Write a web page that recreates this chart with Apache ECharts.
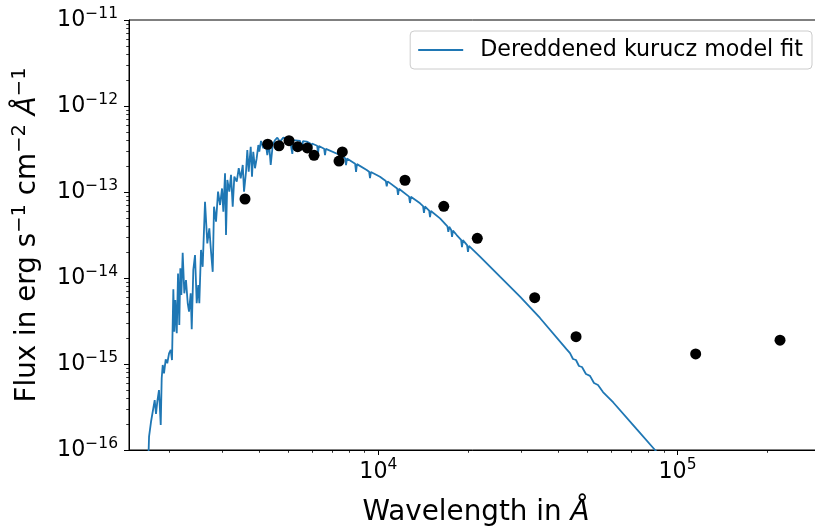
<!DOCTYPE html>
<html><head><meta charset="utf-8">
<script src="https://cdn.jsdelivr.net/npm/echarts@6/dist/echarts.min.js"></script>
<style>html,body{margin:0;padding:0;background:#fff}#c{width:815px;height:528px}</style>
</head><body><div id="c"></div>
<script>
// ---- data ----
const modelWave = [1700,1713,1739,1762,1789,1807,1825,1849,1874,1888,1903,1922,1947,1971,1998,2024,2044,2065,2081,2097,
 2120,2141,2162,2179,2196,2219,2247,2276,2307,2330,2360,2379,2408,2440,2472,2502,2522,2555,2588,2635,
 2682,2724,2760,2796,2824,2868,2913,2958,3004,3034,3074,3097,3129,3177,3219,3261,3302,3364,3416,3468,
 3523,3558,3613,3649,3688,3746,3783,3820,3871,3922,3972,4002,4055,4127,4192,4256,4312,4369,4437,4516,
 4597,4693,4813,4941,5069,5125,5160,5195,5268,5474,5520,5559,5598,5763,5916,5958,6000,6245,6288,6331,
 6387,6590,6635,6680,7447,7746,7801,7856,8366,8425,8484,9147,9316,9382,9448,10130,10595,10670,10745,11560,
 11640,11720,11820,12670,12760,12850,13790,14110,14210,14310,14790,14890,14990,16080,17020,17140,17260,17520,17640,17760,
 18280,18910,19040,19170,19800,19940,20080,21870,25510,29760,34700,42620,43720,44740,45780,46840,47940,49430,50990,52590,
 54230,56360,58120,61010,73040,84100,118900];
const modelFlux = [6.0e-17,1.43e-16,2.13e-16,2.08e-16,3.81e-16,2.62e-16,3.64e-16,4.98e-16,1.95e-16,6.82e-16,9.74e-16,7.80e-16,1.13e-15,1.02e-15,1.33e-15,1.46e-15,1.11e-15,7.39e-15,2.38e-15,5.55e-15,
 2.28e-15,1.13e-14,2.84e-15,1.30e-14,6.34e-15,1.97e-14,6.64e-15,9.48e-15,5.08e-15,4.06e-15,6.64e-15,2.53e-15,1.24e-14,1.85e-14,5.08e-15,8.29e-15,5.08e-15,2.12e-14,1.35e-14,7.71e-14,
 2.53e-14,3.78e-14,2.02e-14,1.18e-14,6.75e-14,4.51e-14,1.01e-13,7.06e-14,1.10e-13,5.90e-14,1.65e-13,3.16e-14,1.38e-13,1.01e-13,1.58e-13,6.75e-14,1.51e-13,1.32e-13,1.89e-13,1.44e-13,
 2.06e-13,1.01e-13,1.72e-13,3.08e-13,1.72e-13,3.36e-13,1.51e-13,2.94e-13,1.89e-13,2.47e-13,3.52e-13,2.94e-13,3.92e-13,3.22e-13,4.02e-13,2.69e-13,3.68e-13,2.06e-13,3.52e-13,4.02e-13,
 4.28e-13,3.85e-13,4.28e-13,4.21e-13,4.02e-13,4.00e-13,2.77e-13,4.00e-13,3.98e-13,3.92e-13,3.90e-13,3.08e-13,3.90e-13,3.85e-13,3.68e-13,3.16e-13,3.66e-13,3.45e-13,2.84e-13,3.43e-13,
 3.36e-13,3.19e-13,2.69e-13,3.17e-13,2.69e-13,2.47e-13,2.06e-13,2.45e-13,2.13e-13,1.71e-13,2.11e-13,1.80e-13,1.72e-13,1.454e-13,1.71e-13,1.505e-13,1.34e-13,1.16e-13,1.33e-13,1.10e-13,
 9.23e-14,1.09e-13,1.055e-13,8.83e-14,7.45e-14,8.79e-14,7.39e-14,6.86e-14,5.70e-14,6.78e-14,6.06e-14,5.12e-14,6.02e-14,4.94e-14,3.98e-14,3.43e-14,3.94e-14,3.62e-14,3.00e-14,3.56e-14,
 3.16e-14,2.78e-14,2.29e-14,2.76e-14,2.41e-14,2.01e-14,2.37e-14,1.769e-14,1.035e-14,6.06e-15,3.43e-15,1.479e-15,1.335e-15,1.143e-15,1.113e-15,9.48e-16,9.23e-16,7.65e-16,7.27e-16,6.01e-16,
 5.70e-16,4.72e-16,4.24e-16,3.57e-16,1.745e-16,1.0e-16,2.53e-17];

const photWave = [3585,4270,4656,5029,5378,5789,6098,7390,7580,12280,16550,21420,33320,45800,115000,220100];
const photFlux = [8.29e-14,3.59e-13,3.45e-13,3.95e-13,3.36e-13,3.25e-13,2.67e-13,2.29e-13,2.92e-13,1.37e-13,6.82e-14,2.89e-14,5.90e-15,2.08e-15,1.31e-15,1.89e-15];

const seriesName = 'Dereddened kurucz model fit';
const xRange = [1468, 306400];
const yRange = [1e-16, 1e-11];
const xMajorTicks = [1e4, 1e5];
const xMajorLabels = ['4', '5'];
const xMinorTicks = [2000,3000,4000,5000,6000,7000,8000,9000,20000,30000,40000,50000,60000,70000,80000,90000,200000,300000];
const yMajorTicks = [1e-16, 1e-15, 1e-14, 1e-13, 1e-12, 1e-11];
const yMajorLabels = ['\u221216', '\u221215', '\u221214', '\u221213', '\u221212', '\u221211'];
const yMinorTicks = [2e-16,3e-16,4e-16,5e-16,6e-16,7e-16,8e-16,9e-16,
 2e-15,3e-15,4e-15,5e-15,6e-15,7e-15,8e-15,9e-15,
 2e-14,3e-14,4e-14,5e-14,6e-14,7e-14,8e-14,9e-14,
 2e-13,3e-13,4e-13,5e-13,6e-13,7e-13,8e-13,9e-13,
 2e-12,3e-12,4e-12,5e-12,6e-12,7e-12,8e-12,9e-12];

// ---- helpers ----
const FONT = 'DejaVu Sans';
function pairs(a, b) { return a.map((v, i) => [v, b[i]]); }
function labelFor(ticks, labels) {
  return function (v) {
    let best = -1, bd = 1e9;
    ticks.forEach((t, i) => { const d = Math.abs(Math.log10(v) - Math.log10(t)); if (d < bd) { bd = d; best = i; } });
    if (bd > 1e-6) return '';
    return '{b|10}{s|' + labels[best] + '}';
  };
}
const tickRich = {
  b: { fontSize: 22.2, fontFamily: FONT, color: '#000', lineHeight: 29, verticalAlign: 'middle' },
  s: { fontSize: 15.5, fontFamily: FONT, color: '#000', lineHeight: 15.5, verticalAlign: 'top' }
};
const nameRich = {
  n: { fontSize: 27.8, fontFamily: FONT, color: '#000', lineHeight: 36, verticalAlign: 'middle' },
  a: { fontSize: 27.8, fontFamily: FONT, fontStyle: 'italic', color: '#000', lineHeight: 36, verticalAlign: 'middle' },
  s: { fontSize: 19.5, fontFamily: FONT, color: '#000', lineHeight: 19.5, verticalAlign: 'top' }
};
const axisLineStyle = { color: '#000', width: 1 };

const chart = echarts.init(document.getElementById('c'), null, { renderer: 'canvas' });
chart.setOption({
  animation: false,
  backgroundColor: '#fff',
  grid: { left: 129, top: 20, width: 694, height: 430, show: true, borderColor: '#000', borderWidth: 1,
          backgroundColor: 'transparent', containLabel: false, outerBoundsMode: 'none' },
  legend: {
    data: [{ name: seriesName, icon: 'rect' }], right: 3, top: 31, orient: 'vertical',
    itemWidth: 45, itemHeight: 2, padding: [8, 9, 8, 8],
    backgroundColor: '#fff', borderColor: '#cccccc', borderWidth: 1, borderRadius: 4,
    itemStyle: { color: '#1f77b4', borderWidth: 0 },
    textStyle: { fontSize: 22.2, fontFamily: FONT, color: '#000', padding: [0, 0, 0, 12] }
  },
  xAxis: [
    {
      type: 'log', gridIndex: 0, min: xRange[0], max: xRange[1], position: 'bottom',
      axisLine: { show: true, onZero: false, lineStyle: axisLineStyle },
      axisTick: { show: true, customValues: xMajorTicks, length: 5, lineStyle: axisLineStyle },
      axisLabel: { customValues: xMajorTicks, formatter: labelFor(xMajorTicks, xMajorLabels), rich: tickRich, margin: 7.4 },
      splitLine: { show: false }, minorTick: { show: false },
      name: '{n|Wavelength in }{a|\u00c5}', nameLocation: 'middle', nameGap: 45,
      nameTextStyle: { rich: nameRich }
    },
    {
      type: 'log', gridIndex: 0, min: xRange[0], max: xRange[1], position: 'bottom',
      axisLine: { show: false, onZero: false },
      axisTick: { show: true, customValues: xMinorTicks, length: 2.8, lineStyle: { color: '#000', width: 0.8 } },
      axisLabel: { show: false }, splitLine: { show: false }
    }
  ],
  yAxis: [
    {
      type: 'log', gridIndex: 0, min: yRange[0], max: yRange[1], position: 'left',
      axisLine: { show: true, onZero: false, lineStyle: axisLineStyle },
      axisTick: { show: true, customValues: yMajorTicks, length: 5, lineStyle: axisLineStyle },
      axisLabel: { customValues: yMajorTicks, formatter: labelFor(yMajorTicks, yMajorLabels), rich: tickRich, margin: 11 },
      splitLine: { show: false }, minorTick: { show: false },
      name: '{n|Flux in erg s}{s|\u22121}{n| cm}{s|\u22122}{n| }{a|\u00c5}{s|\u22121}',
      nameLocation: 'middle', nameGap: 83, nameRotate: 90,
      nameTextStyle: { rich: nameRich }
    },
    {
      type: 'log', gridIndex: 0, min: yRange[0], max: yRange[1], position: 'left',
      axisLine: { show: false, onZero: false },
      axisTick: { show: true, customValues: yMinorTicks, length: 2.8, lineStyle: { color: '#000', width: 0.8 } },
      axisLabel: { show: false }, splitLine: { show: false }
    }
  ],
  series: [
    {
      type: 'line', name: seriesName, xAxisIndex: 0, yAxisIndex: 0,
      data: pairs(modelWave, modelFlux), symbol: 'none', showSymbol: false,
      lineStyle: { color: '#1f77b4', width: 1.8 }, itemStyle: { color: '#1f77b4' },
      clip: true, z: 2
    },
    {
      type: 'scatter', name: 'photometry', xAxisIndex: 0, yAxisIndex: 0,
      data: pairs(photWave, photFlux), symbol: 'circle', symbolSize: 11,
      itemStyle: { color: '#000', opacity: 1 }, z: 3
    }
  ]
});
</script>
</body></html>
